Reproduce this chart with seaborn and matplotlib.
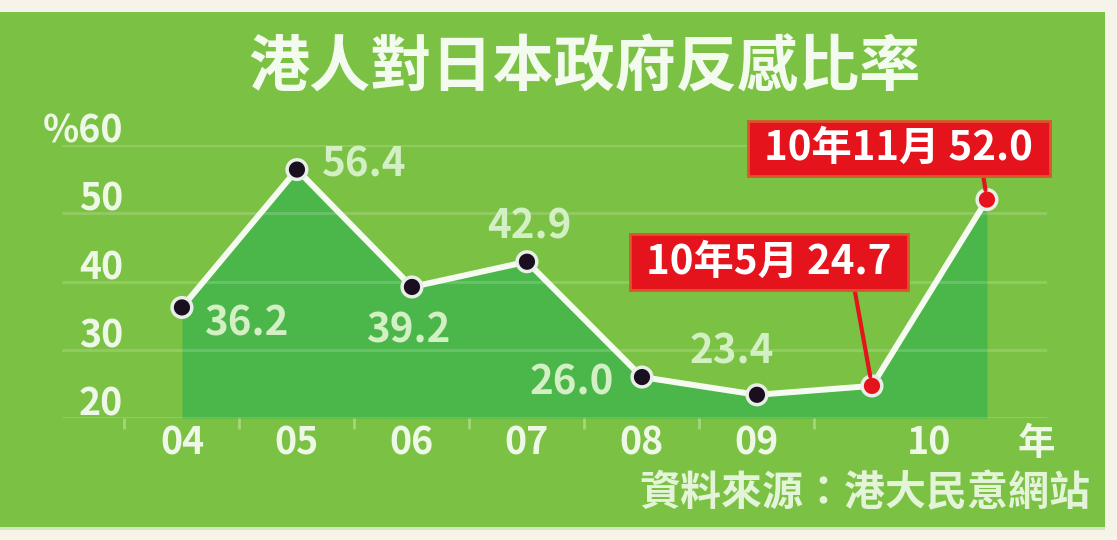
import numpy as np
import pandas as pd
import matplotlib
matplotlib.use("Agg")
import matplotlib.pyplot as plt
import matplotlib.transforms as mtransforms
from matplotlib.patches import Rectangle
import seaborn as sns

# ---- data ----
point_names = ["04", "05", "06", "07", "08", "09", "10年5月", "10年11月"]
values = [36.2, 56.4, 39.2, 42.9, 26.0, 23.4, 24.7, 52.0]
value_labels = ["36.2", "56.4", "39.2", "42.9", "26.0", "23.4", "24.7", "52.0"]
x_tick_labels = ["04", "05", "06", "07", "08", "09", "10", "年"]
y_ticks = [20, 30, 40, 50, 60]
y_tick_labels = ["20", "30", "40", "50", "%60"]
title = "港人對日本政府反感比率"
source = "資料來源：港大民意網站"
callouts = ["10年5月 24.7", "10年11月 52.0"]

sns.set_style("white")
plt.rcParams['font.family'] = ['Noto Sans CJK TC', 'DejaVu Sans']
plt.rcParams['font.weight'] = 'bold'

BG = "#7bc143"
FILL = "#4bb649"
TXT = "#eef8e6"
VAL = "#d3efc4"
RED = "#e5131c"

W, H = 1117, 540
fig = plt.figure(figsize=(W / 100, H / 100), dpi=100)
fig.patch.set_facecolor("#f6f4e8")
fig.patches.append(Rectangle((0, 13 / H), 1105 / W, (527 - 12) / H,
                             transform=fig.transFigure, facecolor=BG,
                             edgecolor="none", zorder=-10))
fig.patches.append(Rectangle((0, 10 / H), 1105 / W, 3 / H,
                             transform=fig.transFigure, facecolor="#cfe8b8",
                             edgecolor="none", zorder=-10))

ax = fig.add_axes([62 / W, (H - 418) / H, 985 / W, 273 / H])
ax.set_facecolor("none")
for s in ax.spines.values():
    s.set_visible(False)

df = pd.DataFrame({"idx": np.arange(len(values)), "value": values,
                   "name": point_names})
df["kind"] = ["survey"] * 6 + ["latest"] * 2

ax.fill_between(df["idx"], df["value"], 20, color=FILL, lw=0, zorder=1)
sns.lineplot(data=df, x="idx", y="value", ax=ax, color="#f5fbf0", lw=4.3,
             zorder=3, legend=False)
sns.scatterplot(data=df, x="idx", y="value", hue="kind",
                palette={"survey": "#1a0f1e", "latest": RED}, s=200,
                edgecolor="#e8eee8", linewidth=2.5, ax=ax, zorder=4,
                legend=False, clip_on=False)

ax.set_xlim(-1.043, 7.522)
ax.set_ylim(20, 60)
ax.set_yticks(y_ticks)
ax.set_yticklabels([])
ax.yaxis.grid(True, color="white", alpha=0.16, lw=2.2)
ax.xaxis.grid(False)
ax.set_axisbelow(False)
ax.tick_params(axis="y", length=0)
ax.set_xlabel("")
ax.set_ylabel("")

xt = [0, 1, 2, 3, 4, 5, 6.5, 7.43]
ax.set_xticks(xt)
ax.set_xticklabels(x_tick_labels, fontsize=27, color=TXT, fontweight="bold")
ax.tick_params(axis="x", which="major", bottom=True, length=0, pad=4)
ax.set_xticks(np.arange(-0.5, 6.0, 1.0), minor=True)
ax.tick_params(axis="x", which="minor", bottom=True, length=8, width=2,
               color="#a3d77e", direction="out")

trans = mtransforms.blended_transform_factory(ax.transAxes, ax.transData)
for v, lab in zip(y_ticks, y_tick_labels):
    ax.text(0.062, v + 0.35, lab, transform=trans, ha="right", va="baseline",
            fontsize=27, color=TXT, fontweight="bold")

# value labels (px offsets converted to points)
offsets = [(64, -17), (67, 5), (-4, -44), (2, 35), (-70, -6), (-25, 43)]
for i, (dx, dy) in enumerate(offsets):
    ax.annotate(value_labels[i], (df["idx"][i], values[i]),
                xytext=(dx * 0.72, dy * 0.72), textcoords="offset points",
                ha="center", va="center", fontsize=29, color=VAL,
                fontweight="bold", zorder=5)

# red call-outs
box = dict(boxstyle="square,pad=0.18", facecolor=RED, edgecolor="#d9572c", lw=2)
call_off = [(-103, 124, 0.82), (-88, 51, 0.79)]
for k, (dx, dy, rx) in enumerate(call_off):
    i = 6 + k
    ax.annotate(" " + callouts[k] + " ", (df["idx"][i], values[i]),
                xytext=(dx * 0.72, dy * 0.72), textcoords="offset points",
                ha="center", va="center", fontsize=29, color="white",
                fontweight="bold", bbox=box, zorder=6,
                arrowprops=dict(arrowstyle="-", color=RED, lw=3,
                                relpos=(rx, 0), shrinkA=0, shrinkB=7))

fig.text(585 / W, (H - 69) / H, title, ha="center", va="center",
         fontsize=44, color="#f3faee", fontweight="bold")
fig.text(1090 / W, (H - 493) / H, source, ha="right", va="center",
         fontsize=29.5, color="#e4f4d8", fontweight="bold")

fig.savefig("out.png", dpi=100, facecolor=fig.get_facecolor())
